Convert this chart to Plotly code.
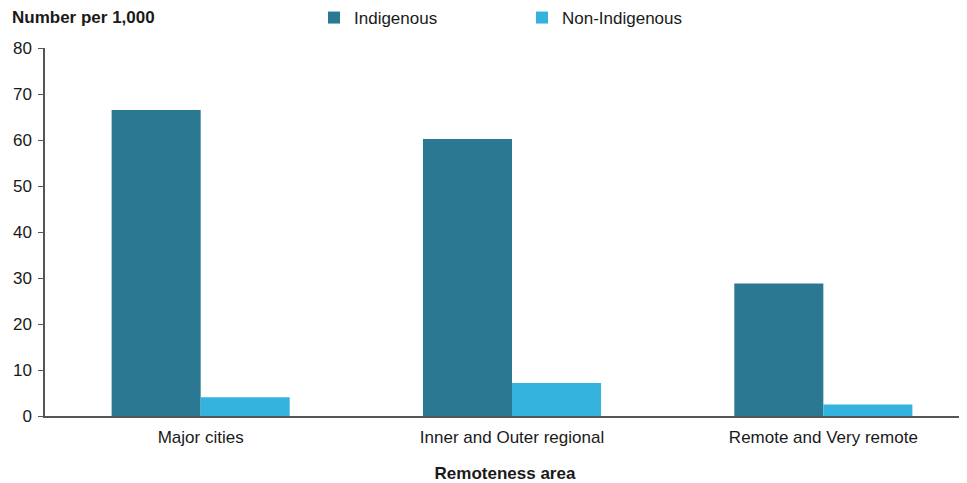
import plotly.graph_objects as go

categories = ["Major cities", "Inner and Outer regional", "Remote and Very remote"]
indigenous = [66.5, 60.2, 28.8]
non_indigenous = [4.1, 7.2, 2.5]
y_ticks = [0, 10, 20, 30, 40, 50, 60, 70, 80]

FONT = "Liberation Sans, Arial, sans-serif"

# The page body has an 8px default margin, so the figure is sized/offset to compensate.
W, H = 959, 475

fig = go.Figure()
fig.add_trace(go.Bar(name="Indigenous", x=categories, y=indigenous,
                     marker=dict(color="#2b7892", line=dict(width=0))))
fig.add_trace(go.Bar(name="Non-Indigenous", x=categories, y=non_indigenous,
                     marker=dict(color="#33b3dd", line=dict(width=0))))

fig.update_layout(
    width=W, height=H,
    barmode="group", bargap=0.428, bargroupgap=0,
    plot_bgcolor="white", paper_bgcolor="white",
    margin=dict(l=37, r=2, t=40, b=67, autoexpand=False),
    font=dict(family=FONT, size=17, color="#1a1a1a"),
    showlegend=True,
    legend=dict(orientation="h", x=306 / W, xanchor="left", y=1 - 10 / H, yanchor="middle",
                yref="container", xref="container", font=dict(size=17),
                entrywidth=163, entrywidthmode="pixels",
                itemwidth=30, traceorder="normal", bgcolor="rgba(0,0,0,0)"),
    xaxis=dict(showline=True, linecolor="#555555", linewidth=1.5, ticks="",
               showgrid=False, tickfont=dict(size=17), automargin=True,
               range=[-0.5, 2.455],
               ticklabelstandoff=5,
               title=dict(text="<b>Remoteness area</b>", font=dict(size=17), standoff=24)),
    yaxis=dict(range=[0, 80], tickvals=y_ticks, showline=True, linecolor="#555555",
               linewidth=1.5, ticks="outside", ticklen=5, tickcolor="#555555",
               ticklabelstandoff=3,
               showgrid=False, zeroline=False, tickfont=dict(size=17), automargin=False),
)

fig.add_annotation(text="<b>Number per 1,000</b>", xref="paper", yref="paper",
                   x=-35 / 920, y=(416 - 18) / 368, xanchor="left", yanchor="middle", showarrow=False,
                   font=dict(size=17, family=FONT))

fig.write_html("out.html")
